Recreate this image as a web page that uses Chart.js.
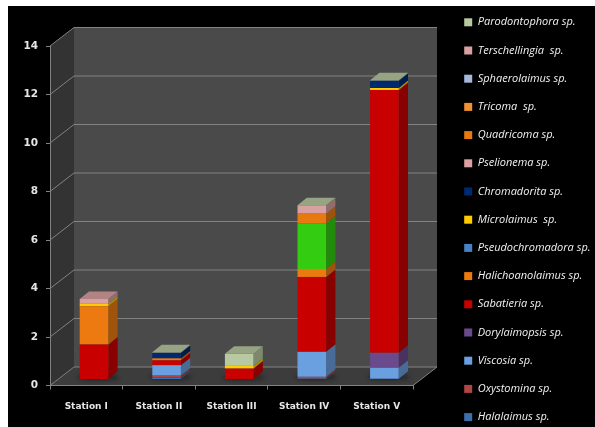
<!DOCTYPE html>
<html>
<head>
<meta charset="utf-8">
<style>
  html, body { margin: 0; padding: 0; background: #fff; overflow: hidden; }
  #box { position: absolute; left: 0; top: 0; width: 595px; height: 427px; }
</style>
</head>
<body>
<div id="box"><canvas id="grafico" width="595" height="427"></canvas></div>
<script src="https://cdn.jsdelivr.net/npm/chart.js@4/dist/chart.umd.min.js"></script>
<script>
// stations and y axis
const stations = ['Station I', 'Station II', 'Station III', 'Station IV', 'Station V'];
const yMax = 14;
const yStep = 2;

// species, from the bottom of the stack to the top
const species = ['Halalaimus sp.', 'Oxystomina sp.', 'Viscosia sp.', 'Dorylaimopsis sp.', 'Sabatieria sp.',
  'Halichoanolaimus sp.', 'Pseudochromadora sp.', 'Microlaimus  sp.', 'Chromadorita sp.', 'Pselionema sp.',
  'Quadricoma sp.', 'Tricoma  sp.', 'Sphaerolaimus sp.', 'Terschellingia  sp.', 'Parodontophora sp.'];

// values
const halalaimus       = [0,    0.08, 0,    0.04, 0.03];
const oxystomina       = [0,    0.08, 0,    0.07, 0];
const viscosia         = [0,    0.43, 0,    1.03, 0.45];
const dorylaimopsis    = [0,    0,    0,    0,    0.62];
const sabatieria       = [1.44, 0.20, 0.45, 3.09, 10.84];
const halichoanolaimus = [1.58, 0.08, 0,    0.33, 0];
const pseudochromadora = [0,    0,    0,    1.87, 0];
const microlaimus      = [0.10, 0,    0.11, 0,    0.08];
const chromadorita     = [0,    0.23, 0,    0,    0.30];
const pselionema       = [0,    0,    0,    0,    0];
const quadricoma       = [0,    0,    0,    0.41, 0];
const tricoma          = [0,    0,    0,    0,    0];
const sphaerolaimus    = [0,    0,    0,    0,    0];
const terschellingia   = [0.20, 0,    0,    0.33, 0];
const parodontophora   = [0,    0.02, 0.50, 0.02, 0.02];

const seriesValues = [halalaimus, oxystomina, viscosia, dorylaimopsis, sabatieria, halichoanolaimus,
  pseudochromadora, microlaimus, chromadorita, pselionema, quadricoma, tricoma, sphaerolaimus,
  terschellingia, parodontophora];

const seriesColors = ['#3d70aa', '#b04545', '#6a9fe0', '#6a4a8c', '#c80000', '#ec7a10', '#4a80c4', '#ffcc00',
  '#002a70', '#dca0a0', '#e87810', '#f09030', '#a4b8dc', '#d8a0a0', '#b8c8a0'];

// Pseudochromadora is green in the Station IV bar only
const pseudochromadoraBars = ['#4a80c4', '#4a80c4', '#4a80c4', '#33cc11', '#4a80c4'];

// 3d look of the plot
const depth = { x: 24, y: -18.5 };    // floor and walls
const barShift = { x: 7.7, y: -6 };   // bars stand in the middle of the floor
const barDepth = { x: 9.3, y: -7.5 };

// darker tone of a colour for the side and top faces
function shade(hex, f) {
  const n = parseInt(hex.slice(1), 16);
  const r = Math.round((n >> 16) * f);
  const g = Math.round(((n >> 8) & 255) * f);
  const b = Math.round((n & 255) * f);
  return `rgb(${r},${g},${b})`;
}

function poly(ctx, pts, fill) {
  ctx.beginPath();
  pts.forEach((p, i) => i ? ctx.lineTo(p[0], p[1]) : ctx.moveTo(p[0], p[1]));
  ctx.closePath();
  ctx.fillStyle = fill;
  ctx.fill();
}

function line(ctx, x1, y1, x2, y2) {
  ctx.beginPath();
  ctx.moveTo(x1, y1);
  ctx.lineTo(x2, y2);
  ctx.stroke();
}

// black page, walls, floor and gridlines
const fundo3d = {
  id: 'fundo3d',
  beforeDraw(chart) {
    const { ctx, chartArea: a, scales: { y } } = chart;
    const top = y.getPixelForValue(yMax);
    const bottom = y.getPixelForValue(0);
    ctx.save();
    ctx.fillStyle = '#000';
    ctx.fillRect(8, 6, 587, 421);
    poly(ctx, [[a.left + depth.x, top + depth.y], [a.right + depth.x, top + depth.y],
      [a.right + depth.x, bottom + depth.y], [a.left + depth.x, bottom + depth.y]], '#4a4a4a');
    poly(ctx, [[a.left, top], [a.left + depth.x, top + depth.y],
      [a.left + depth.x, bottom + depth.y], [a.left, bottom]], '#333333');
    poly(ctx, [[a.left, bottom], [a.left + depth.x, bottom + depth.y],
      [a.right + depth.x, bottom + depth.y], [a.right, bottom]], '#3c3c3c');
    ctx.strokeStyle = '#828282';
    ctx.lineWidth = 1;
    y.ticks.forEach(t => {
      const py = y.getPixelForValue(t.value);
      line(ctx, a.left, py, a.left + depth.x, py + depth.y);
      line(ctx, a.left + depth.x, py + depth.y, a.right + depth.x, py + depth.y);
    });
    line(ctx, a.right, bottom, a.right + depth.x, bottom + depth.y);
    ctx.restore();
  }
};

// side and top faces of the bars, the bars themselves are moved back on the floor
const barras3d = {
  id: 'barras3d',
  beforeDatasetsDraw(chart) {
    const { ctx } = chart;
    const metas = chart.getSortedVisibleDatasetMetas();
    ctx.save();
    ctx.translate(barShift.x, barShift.y);

    // shadow on the floor
    metas[0].data.forEach(el => {
      ctx.save();
      ctx.filter = 'blur(2px)';
      ctx.fillStyle = 'rgba(0,0,0,0.35)';
      ctx.beginPath();
      ctx.ellipse(el.x + 4, el.base - 2, el.width / 2 + 7, 3.5, 0, 0, Math.PI * 2);
      ctx.fill();
      ctx.restore();
    });

    stations.forEach((s, i) => {
      let topo = null;
      metas.forEach((meta, d) => {
        if (!seriesValues[d][i]) return;
        const el = meta.data[i];
        const right = el.x + el.width / 2;
        const color = el.options.backgroundColor;
        poly(ctx, [[right, el.y], [right + barDepth.x, el.y + barDepth.y],
          [right + barDepth.x, el.base + barDepth.y], [right, el.base]], shade(color, 0.68));
        topo = el;
      });
      if (topo) {
        const left = topo.x - topo.width / 2;
        const right = topo.x + topo.width / 2;
        poly(ctx, [[left, topo.y], [left + barDepth.x, topo.y + barDepth.y],
          [right + barDepth.x, topo.y + barDepth.y], [right, topo.y]], shade(topo.options.backgroundColor, 0.82));
      }
    });
  },
  afterDatasetsDraw(chart) {
    chart.ctx.restore();
  },
  // one legend column taller than the canvas allows, placed right of the plot
  afterLayout(chart) {
    const legend = chart.legend;
    legend.maxHeight = 1000;
    legend.fit();
    legend.left = 447;
    legend.right = 595;
    legend.top = -0.4;
    legend.bottom = 440;
  }
};

const datasets = species.map((nome, i) => ({
  label: nome,
  data: seriesValues[i],
  backgroundColor: nome.startsWith('Pseudochromadora') ? pseudochromadoraBars : seriesColors[i],
  borderWidth: 0,
  clip: false,
  barPercentage: 0.394,
  categoryPercentage: 1
}));

new Chart(document.getElementById('grafico'), {
  type: 'bar',
  data: { labels: stations, datasets: datasets },
  options: {
    responsive: false,
    animation: false,
    layout: { padding: { left: 0, top: 46, right: 17, bottom: 0 } },
    plugins: {
      tooltip: { enabled: false },
      legend: {
        position: 'right',
        align: 'start',
        reverse: true,
        maxWidth: 165,
        labels: {
          boxWidth: 8,
          boxHeight: 8,
          padding: 17.2,
          color: '#f2f2f2',
          font: { family: '"Open Sans"', size: 11, style: 'italic' },
          generateLabels(chart) {
            return Chart.defaults.plugins.legend.labels.generateLabels(chart).map(item => {
              item.fillStyle = seriesColors[item.datasetIndex];
              item.strokeStyle = seriesColors[item.datasetIndex];
              item.lineWidth = 0;
              return item;
            });
          }
        }
      }
    },
    scales: {
      x: {
        stacked: true,
        afterFit(scale) { scale.height = 41.5; },
        border: { color: '#828282' },
        grid: { drawOnChartArea: false, color: '#828282', tickLength: 4, offset: true },
        ticks: {
          color: '#e6e6e6',
          padding: 12,
          maxRotation: 0,
          autoSkip: false,
          font: { family: '"DejaVu Sans"', size: 9, weight: 'bold' }
        }
      },
      y: {
        stacked: true,
        min: 0,
        max: yMax,
        afterFit(scale) { scale.width = 50; },
        border: { color: '#828282' },
        grid: { drawOnChartArea: false, color: '#828282', tickLength: 4 },
        ticks: {
          stepSize: yStep,
          color: '#e6e6e6',
          padding: 8,
          font: { family: '"DejaVu Sans"', size: 10.5, weight: 'bold' }
        }
      }
    }
  },
  plugins: [fundo3d, barras3d]
});
</script>
</body>
</html>
